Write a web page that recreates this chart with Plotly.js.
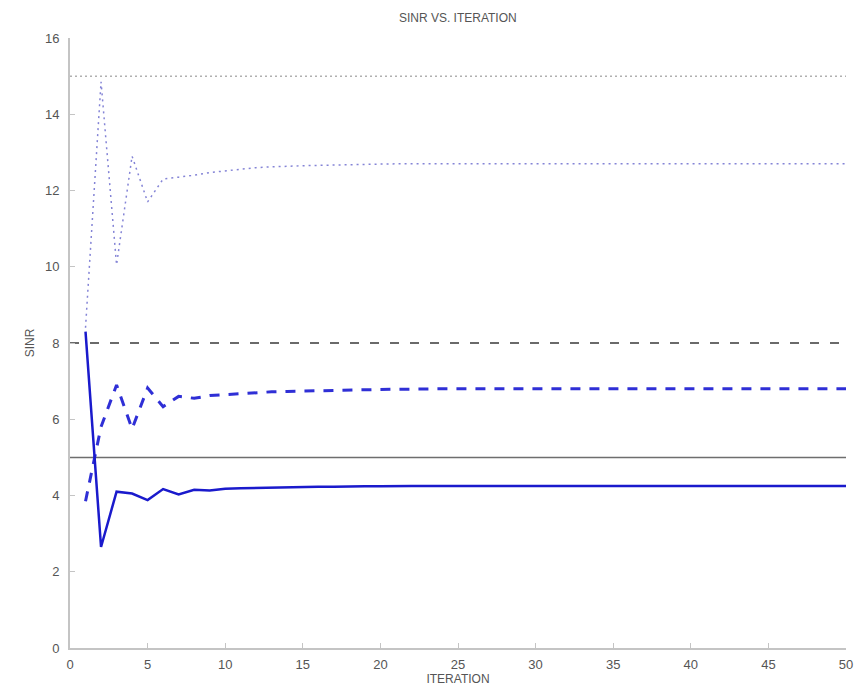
<!DOCTYPE html>
<html>
<head>
<meta charset="utf-8">
<script src="https://cdn.plot.ly/plotly-3.0.1.min.js"></script>
<style>html,body{margin:0;padding:0;background:#fff;}#chart{width:867px;height:695px;}</style>
</head>
<body>
<div id="chart"></div>
<script>
const iterations = Array.from({length: 50}, (_, i) => i + 1);

const sinrSolid = [8.3, 2.65, 4.1, 4.05, 3.88, 4.17, 4.03, 4.15, 4.13, 4.18,
  4.19, 4.2, 4.21, 4.22, 4.22, 4.23, 4.23, 4.24, 4.24, 4.24,
  4.25, 4.25, 4.25, 4.25, 4.25, 4.25, 4.25, 4.25, 4.25, 4.25,
  4.25, 4.25, 4.25, 4.25, 4.25, 4.25, 4.25, 4.25, 4.25, 4.25,
  4.25, 4.25, 4.25, 4.25, 4.25, 4.25, 4.25, 4.25, 4.25, 4.25];

const sinrDashed = [3.85, 5.8, 6.9, 5.75, 6.82, 6.33, 6.6, 6.55, 6.62, 6.65,
  6.68, 6.7, 6.72, 6.73, 6.74, 6.75, 6.76, 6.77, 6.78, 6.78,
  6.79, 6.79, 6.8, 6.8, 6.8, 6.8, 6.8, 6.8, 6.8, 6.8,
  6.8, 6.8, 6.8, 6.8, 6.8, 6.8, 6.8, 6.8, 6.8, 6.8,
  6.8, 6.8, 6.8, 6.8, 6.8, 6.8, 6.8, 6.8, 6.8, 6.8];

const sinrDotted = [8.4, 14.85, 10.05, 12.9, 11.7, 12.3, 12.35, 12.4, 12.47, 12.52,
  12.56, 12.6, 12.62, 12.64, 12.65, 12.66, 12.67, 12.68, 12.69, 12.69,
  12.7, 12.7, 12.7, 12.7, 12.7, 12.7, 12.7, 12.7, 12.7, 12.7,
  12.7, 12.7, 12.7, 12.7, 12.7, 12.7, 12.7, 12.7, 12.7, 12.7,
  12.7, 12.7, 12.7, 12.7, 12.7, 12.7, 12.7, 12.7, 12.7, 12.7];

const targetX = [0, 50];
const targetSolid = [5, 5];
const targetDashed = [8, 8];
const targetDotted = [15, 15];

const xTicks = [0, 5, 10, 15, 20, 25, 30, 35, 40, 45, 50];
const yTicks = [0, 2, 4, 6, 8, 10, 12, 14, 16];

const traces = [
  {x: targetX, y: targetDotted, mode: 'lines', line: {color: '#b0b0b0', width: 1.5, dash: '2px,3px'}},
  {x: targetX, y: targetDashed, mode: 'lines', line: {color: '#6a6a6a', width: 2, dash: '9px,11px'}},
  {x: targetX, y: targetSolid, mode: 'lines', line: {color: '#6e6e6e', width: 1.5}},
  {x: iterations, y: sinrDotted, mode: 'lines', line: {color: '#8484d6', width: 1.5, dash: '2px,4px'}},
  {x: iterations, y: sinrDashed, mode: 'lines', line: {color: '#2f2fd6', width: 3, dash: '10px,9px'}},
  {x: iterations, y: sinrSolid, mode: 'lines', line: {color: '#1a1acc', width: 2.5}}
];

const fontFam = 'Liberation Sans, Arial, sans-serif';
const layout = {
  width: 867, height: 695,
  margin: {l: 70, r: 21, t: 38, b: 47},
  paper_bgcolor: '#ffffff', plot_bgcolor: '#ffffff',
  showlegend: false,
  font: {family: fontFam, size: 12, color: '#444'},
  title: {text: 'SINR VS. ITERATION', x: 0.528, xanchor: 'center', y: 0.974, yanchor: 'middle', font: {family: fontFam, size: 12, color: '#555'}},
  xaxis: {
    range: [0, 50], tickvals: xTicks, ticktext: xTicks.map(String),
    showgrid: false, zeroline: false, showline: true, linecolor: '#c4c4c4', linewidth: 2,
    ticks: 'inside', ticklen: 5, tickcolor: '#c4c4c4', tickwidth: 1,
    ticklabelstandoff: 3,
    tickfont: {family: fontFam, size: 13, color: '#555'},
    title: {text: 'ITERATION', standoff: 1, font: {family: fontFam, size: 12, color: '#555'}}
  },
  yaxis: {
    range: [0, 16], tickvals: yTicks, ticktext: yTicks.map(String),
    showgrid: false, zeroline: false, showline: true, linecolor: '#c4c4c4', linewidth: 2,
    ticks: 'inside', ticklen: 5, tickcolor: '#c4c4c4', tickwidth: 1,
    ticklabelstandoff: 6,
    tickfont: {family: fontFam, size: 13, color: '#555'},
    title: {text: 'SINR', standoff: 8, font: {family: fontFam, size: 12, color: '#555'}}
  }
};

Plotly.newPlot('chart', traces, layout, {displayModeBar: false, staticPlot: true});
</script>
</body>
</html>
